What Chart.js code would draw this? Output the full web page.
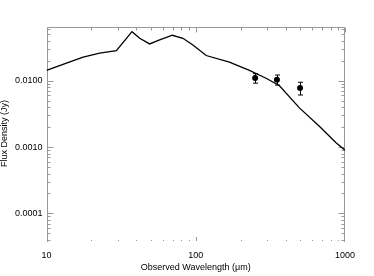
<!DOCTYPE html>
<html>
<head>
<meta charset="utf-8">
<script src="https://cdn.jsdelivr.net/npm/chart.js@4.4.1/dist/chart.umd.min.js"></script>
<style>
  body { margin: 0; background: #fff; }
  #wrap { width: 374px; height: 276px; }
</style>
</head>
<body>
<div id="wrap"><canvas id="sed" width="374" height="276"></canvas></div>
<script>
// model SED (observed wavelength in micron, flux density in Jy)
const modelWave = [10, 13.6, 17.6, 22.7, 29.4, 37.4, 42.1, 49.1, 57.3, 69.7, 82.0, 95.7, 117.5, 168, 229, 296, 364, 495, 673, 871, 1000];
const modelFlux = [0.0143, 0.0184, 0.0227, 0.0260, 0.0285, 0.0549, 0.0437, 0.0359, 0.0412, 0.0485, 0.0437, 0.0347, 0.0240, 0.0191, 0.0143, 0.0109, 0.0084, 0.0039, 0.00206, 0.00116, 0.0009];

// photometry
const obsWave = [250, 350, 500];
const obsFlux = [0.0110, 0.0104, 0.0078];
const obsErr = [0.0018, 0.0018, 0.0017];

// axis ticks
const xMajor = [10, 100, 1000];
const xLabels = ["10", "100", "1000"];
const yMajor = [0.0001, 0.001, 0.01];
const yLabels = ["0.0001", "0.0010", "0.0100"];

const xMin = 10, xMax = 1000;
const yMin = 3.98e-5, yMax = 0.0646;

const minorsFor = (lo, hi) => {
  const out = [];
  for (let d = Math.floor(Math.log10(lo)); d <= Math.ceil(Math.log10(hi)); d++) {
    for (let m = 1; m < 10; m++) {
      const v = m * Math.pow(10, d);
      if (v >= lo * 0.999 && v <= hi * 1.001) out.push(v);
    }
  }
  return out;
};
const xAll = minorsFor(xMin, xMax);
const yAll = minorsFor(yMin, yMax);

const isMajor = (v, list) => list.some(m => Math.abs(v / m - 1) < 1e-6);
const labelFor = (v, list, labels) => {
  const i = list.findIndex(m => Math.abs(v / m - 1) < 1e-6);
  return i >= 0 ? labels[i] : "";
};

const axisGray = "#999999";

// frame and inward IDL-style ticks
const framePlugin = {
  id: "frame",
  beforeDatasetsDraw(chart) {
    const { ctx, chartArea: a, scales: { x, y } } = chart;
    const L = Math.round(a.left) + 0.5, R = Math.round(a.right) - 0.5;
    const T = Math.round(a.top) + 0.5, B = Math.round(a.bottom);
    ctx.save();
    ctx.strokeStyle = axisGray;
    ctx.lineWidth = 1;
    ctx.beginPath();
    ctx.moveTo(L, B + 2); ctx.lineTo(L, T); ctx.lineTo(R, T); ctx.lineTo(R, B + 2);
    ctx.stroke();

    ctx.beginPath();
    yAll.forEach(v => {
      const py = Math.round(y.getPixelForValue(v)) + 0.5;
      const len = isMajor(v, yMajor) ? 6 : 3;
      ctx.moveTo(L, py); ctx.lineTo(L + len, py);
      ctx.moveTo(R, py); ctx.lineTo(R - len, py);
    });
    xAll.forEach(v => {
      const px = Math.round(x.getPixelForValue(v)) + 0.5;
      const len = isMajor(v, xMajor) ? 5 : 3;
      ctx.moveTo(px, T); ctx.lineTo(px, T + len);
      if (v > xMin && v < xMax) {
        const blen = isMajor(v, xMajor) ? 4 : 1;
        ctx.moveTo(px, B + 1); ctx.lineTo(px, B + 1 - blen);
      }
    });
    ctx.stroke();
    ctx.restore();
  }
};

// vertical error bars for the photometry
const errorBarPlugin = {
  id: "errorBars",
  afterDatasetsDraw(chart) {
    const { ctx, scales: { x, y } } = chart;
    ctx.save();
    ctx.strokeStyle = "#000";
    ctx.lineWidth = 1;
    ctx.beginPath();
    obsWave.forEach((w, i) => {
      const px = Math.round(x.getPixelForValue(w)) + 0.5;
      const top = y.getPixelForValue(obsFlux[i] + obsErr[i]);
      const bot = y.getPixelForValue(obsFlux[i] - obsErr[i]);
      ctx.moveTo(px, top); ctx.lineTo(px, bot);
      ctx.moveTo(px - 2.5, top); ctx.lineTo(px + 2.5, top);
      ctx.moveTo(px - 2.5, bot); ctx.lineTo(px + 2.5, bot);
    });
    ctx.stroke();
    ctx.restore();
  }
};

const tickFont = { family: "'Liberation Sans', Arial, sans-serif", size: 9 };

new Chart(document.getElementById("sed"), {
  type: "scatter",
  data: {
    datasets: [
      {
        label: "model",
        data: modelWave.map((w, i) => ({ x: w, y: modelFlux[i] })),
        showLine: true,
        borderColor: "#000",
        borderWidth: 1.3,
        pointRadius: 0,
        tension: 0,
        fill: false
      },
      {
        label: "observed",
        data: obsWave.map((w, i) => ({ x: w, y: obsFlux[i] })),
        showLine: false,
        pointRadius: 3,
        backgroundColor: "#000",
        borderColor: "#000",
        borderWidth: 0
      }
    ]
  },
  options: {
    responsive: false,
    animation: false,
    events: [],
    layout: { padding: { top: 27, right: 29, left: 0, bottom: 0 } },
    plugins: { legend: { display: false }, tooltip: { enabled: false } },
    scales: {
      x: {
        type: "logarithmic",
        min: xMin,
        max: xMax,
        grid: { display: false, drawTicks: false },
        border: { display: false },
        afterBuildTicks: (scale) => { scale.ticks = xAll.map(v => ({ value: v })); },
        afterFit: (scale) => { scale.height = 36; },
        ticks: {
          autoSkip: false,
          maxRotation: 0,
          padding: 10,
          color: "#000",
          font: tickFont,
          callback: (v) => labelFor(v, xMajor, xLabels)
        },
        title: {
          display: true,
          text: "Observed Wavelength (\u03bcm)",
          color: "#000",
          font: tickFont,
          padding: { top: 0, bottom: 3 }
        }
      },
      y: {
        type: "logarithmic",
        min: yMin,
        max: yMax,
        grid: { display: false, drawTicks: false },
        border: { display: false },
        afterBuildTicks: (scale) => { scale.ticks = yAll.map(v => ({ value: v })); },
        afterFit: (scale) => { scale.width = 46.5; },
        ticks: {
          autoSkip: false,
          padding: 4,
          color: "#000",
          font: tickFont,
          callback: (v) => labelFor(v, yMajor, yLabels)
        },
        title: {
          display: true,
          text: "Flux Density (Jy)",
          color: "#000",
          font: { family: "'Liberation Sans', Arial, sans-serif", size: 9, lineHeight: 1 },
          padding: { top: 0, bottom: 0 }
        }
      }
    }
  },
  plugins: [framePlugin, errorBarPlugin]
});
</script>
</body>
</html>
